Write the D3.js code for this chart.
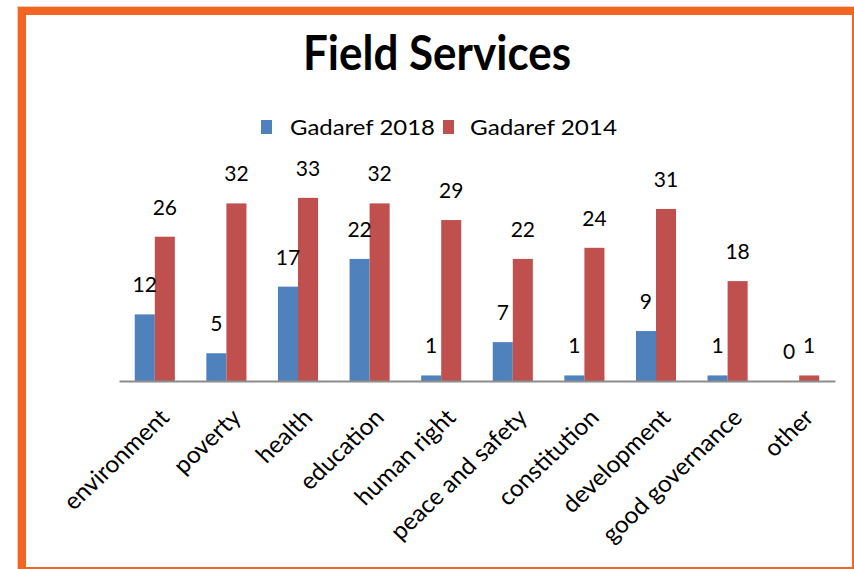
<!DOCTYPE html>
<html>
<head>
<meta charset="utf-8">
<script src="https://cdn.jsdelivr.net/npm/d3@7"></script>
<style>
  body { margin: 0; background: #fff; }
  svg { display: block; font-family: Lato, "Open Sans", sans-serif; }
</style>
</head>
<body>
<div class="chart"></div>
<script>
// Field Services - Gadaref 2018 vs 2014
const categories = [
  "environment",
  "poverty",
  "health",
  "education",
  "human right",
  "peace and safety",
  "constitution",
  "development",
  "good governance",
  "other"
];
const values2018 = [12, 5, 17, 22, 1, 7, 1, 9, 1, 0];
const values2014 = [26, 32, 33, 32, 29, 22, 24, 31, 18, 1];
const seriesNames = ["Gadaref 2018", "Gadaref 2014"];
const yDomain = [0, 35];

const colors = ["#4f81bd", "#c0504d"];

document.addEventListener("DOMContentLoaded", drawChart);

function drawChart() {
  const w = 854;
  const h = 569;

  const svg = d3
    .select(".chart")
    .append("svg")
    .attr("width", w)
    .attr("height", h);

  // orange frame
  svg
    .append("rect")
    .attr("x", 22)
    .attr("y", 11)
    .attr("width", 834)
    .attr("height", 560)
    .attr("fill", "#fff")
    .attr("stroke", "#f9c9b0")
    .attr("stroke-width", 10);

  svg
    .append("rect")
    .attr("x", 22)
    .attr("y", 11)
    .attr("width", 834)
    .attr("height", 560)
    .attr("fill", "#fff")
    .attr("stroke", "#f26522")
    .attr("stroke-width", 8);

  svg
    .append("text")
    .attr("x", 437)
    .attr("y", 70)
    .attr("text-anchor", "middle")
    .attr("font-size", 47)
    .attr("font-weight", "bold")
    .attr("textLength", 268)
    .attr("lengthAdjust", "spacingAndGlyphs")
    .text("Field Services");

  drawLegend(svg);

  const xScale = d3
    .scaleBand()
    .domain(categories)
    .range([119, 835])
    .paddingInner(0.44)
    .paddingOuter(0.22);

  const subScale = d3
    .scaleBand()
    .domain([0, 1])
    .range([0, xScale.bandwidth()]);

  const yScale = d3.scaleLinear().domain(yDomain).range([381, 186.75]);

  const groups = svg
    .selectAll("g.group")
    .data(categories)
    .enter()
    .append("g")
    .attr("class", "group")
    .attr("transform", (d) => `translate(${xScale(d)},0)`);

  const rows = (d, i) => [
    { s: 0, v: values2018[i] },
    { s: 1, v: values2014[i] }
  ];

  groups
    .selectAll("rect")
    .data(rows)
    .enter()
    .append("rect")
    .attr("x", (d) => subScale(d.s))
    .attr("y", (d) => yScale(d.v))
    .attr("width", subScale.bandwidth())
    .attr("height", (d) => yScale(0) - yScale(d.v))
    .attr("fill", (d) => colors[d.s]);

  groups
    .selectAll("text")
    .data(rows)
    .enter()
    .append("text")
    .attr("x", (d) => subScale(d.s) + subScale.bandwidth() / 2)
    .attr("y", (d) => yScale(d.v) - 22)
    .attr("text-anchor", "middle")
    .attr("font-size", 21)
    .attr("fill", "#000")
    .text((d) => d.v);

  const xAxis = d3.axisBottom(xScale).tickSize(0).tickFormat("");

  const axisG = svg
    .append("g")
    .attr("transform", "translate(0,381)")
    .call(xAxis);

  axisG.select(".domain").attr("stroke", "#8c8c8c").attr("stroke-width", 2);

  // rotated category labels, end of text pinned under each tick
  svg
    .selectAll("text.cat")
    .data(categories)
    .enter()
    .append("text")
    .attr("class", "cat")
    .attr(
      "transform",
      (d) =>
        `translate(${xScale(d) + xScale.bandwidth() / 2 + 16},419) scale(1.05,1) rotate(-45)`
    )
    .attr("text-anchor", "end")
    .attr("font-size", 23.5)
    .attr("fill", "#000")
    .text((d) => d);
}

function drawLegend(svg) {
  const items = [
    { sq: 261, tx: 290, len: 145 },
    { sq: 443, tx: 470, len: 147 }
  ];

  const legend = svg
    .append("g")
    .selectAll("g")
    .data(seriesNames)
    .enter()
    .append("g");

  legend
    .append("rect")
    .attr("x", (d, i) => items[i].sq)
    .attr("y", 120)
    .attr("width", 11)
    .attr("height", 14)
    .attr("fill", (d, i) => colors[i]);

  legend
    .append("text")
    .attr("x", (d, i) => items[i].tx)
    .attr("y", 135)
    .attr("font-size", 21)
    .attr("textLength", (d, i) => items[i].len)
    .attr("lengthAdjust", "spacingAndGlyphs")
    .text((d) => d);
}
</script>
</body>
</html>
